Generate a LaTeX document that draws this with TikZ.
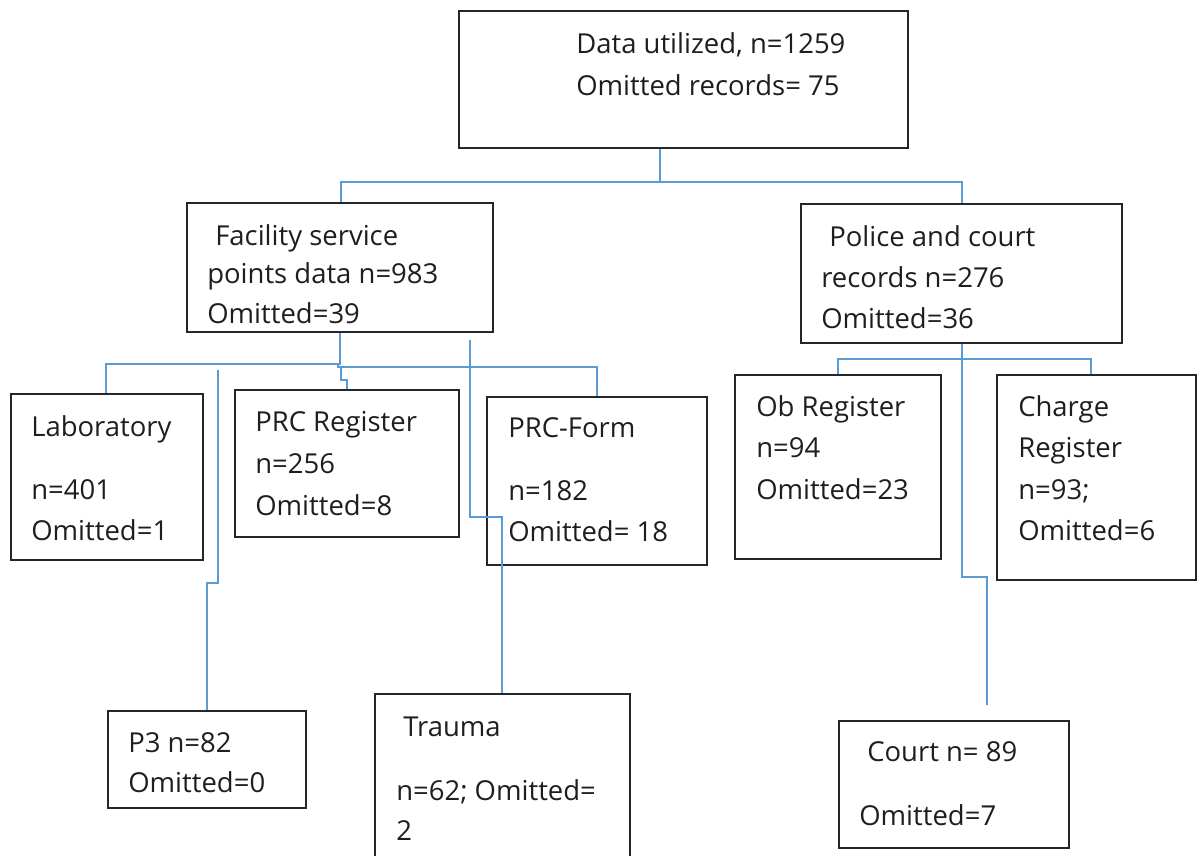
\documentclass[tikz,border=0pt]{standalone}
\usepackage{fontspec}
\setmainfont{Open Sans}
\usetikzlibrary{fit}
\definecolor{linkblue}{HTML}{5B9BD5}
\definecolor{inkgray}{HTML}{1E1E1E}
\tikzset{
  box/.style={draw=black!85, line width=1.1pt, inner sep=0pt},
  txt/.style={anchor=base west, inner sep=0pt, text=inkgray,
              font=\fontsize{20.6}{24}\selectfont},
  conn/.style={draw=linkblue, line width=1pt},
}
\begin{document}
\begin{tikzpicture}[x=0.75pt, y=-0.75pt]
\useasboundingbox (0,0) rectangle (1203,856);
\clip (0,0) rectangle (1203,856);

% boxes
\node[box, fit={(459,11)(908,148)}] (top) {};
\node[box, fit={(187,203)(493,332)}] (fac) {};
\node[box, fit={(801,204)(1122,343)}] (pol) {};
\node[box, fit={(11,394)(203,560)}] (lab) {};
\node[box, fit={(235,390)(459,537)}] (reg) {};
\node[box, fit={(487,397)(707,565)}] (form) {};
\node[box, fit={(735,375)(941,559)}] (ob) {};
\node[box, fit={(997,375)(1196,580)}] (chg) {};
\node[box, fit={(108,711)(306,808)}] (pthree) {};
\node[box, fit={(375,694)(630,870)}] (trauma) {};
\node[box, fit={(839,721)(1069,848)}] (court) {};

% labels
\node[txt] (t1) at (576,54) {Data utilized, n=1259};
\node[txt] (t2) at (576,95) {Omitted records= 75};
\node[txt] (f1) at (215,245) {Facility service};
\node[txt] (f2) at (207,283) {points data n=983};
\node[txt] (f3) at (207,323) {Omitted=39};
\node[txt] (p1) at (829,246) {Police and court};
\node[txt] (p2) at (821,287) {records n=276};
\node[txt] (p3) at (821,328) {Omitted=36};
\node[txt] (l1) at (31,436) {Laboratory};
\node[txt] (l2) at (31,499) {n=401};
\node[txt] (l3) at (31,540) {Omitted=1};
\node[txt] (r1) at (255,431) {PRC Register};
\node[txt] (r2) at (255,473) {n=256};
\node[txt] (r3) at (255,515) {Omitted=8};
\node[txt] (m1) at (508,437) {PRC-Form};
\node[txt] (m2) at (508,500) {n=182};
\node[txt] (m3) at (508,541) {Omitted= 18};
\node[txt] (o1) at (756,416) {Ob Register};
\node[txt] (o2) at (756,457) {n=94};
\node[txt] (o3) at (756,499) {Omitted=23};
\node[txt] (c1) at (1018,416) {Charge};
\node[txt] (c2) at (1018,457) {Register};
\node[txt] (c3) at (1018,499) {n=93;};
\node[txt] (c4) at (1018,540) {Omitted=6};
\node[txt] (q1) at (128,752) {P3 n=82};
\node[txt] (q2) at (128,792) {Omitted=0};
\node[txt] (u1) at (403,736) {Trauma};
\node[txt] (u2) at (396,800) {n=62; Omitted=};
\node[txt] (u3) at (396,840) {2};
\node[txt] (k1) at (867,761) {Court n= 89};
\node[txt] (k2) at (859,825) {Omitted=7};

% free ends of the loose connector strands
\coordinate (pthreeend) at (218,370);
\coordinate (traumaend) at (470,340);
\coordinate (courtend) at (987,705);

% connectors
\draw[conn] (top.south -| 660,0) -- (660,182) -| (fac.north -| 341,0);
\draw[conn] (660,182) -| (pol.north -| 962,0);

\draw[conn] (fac.south -| 340,0) -- (340,364) -| (lab.north -| 106,0);
\draw[conn] (338,364) -- (338,367) -| (form.north -| 597,0);
\draw[conn] (341,367) -- (341,380) -- (347,380) -- (reg.north -| 347,0);
\draw[conn] (pthreeend) -- (218,583) -- (207,583) -- (pthree.north -| 207,0);
\draw[conn] (traumaend) -- (470,517) -- (502,517) -- (trauma.north -| 502,0);

\draw[conn] (pol.south -| 962,0) -- (962,577) -- (987,577) -- (courtend);
\draw[conn] (ob.north -| 838,0) -- (838,359) -- (1091,359) -- (chg.north -| 1091,0);
\end{tikzpicture}
\end{document}
